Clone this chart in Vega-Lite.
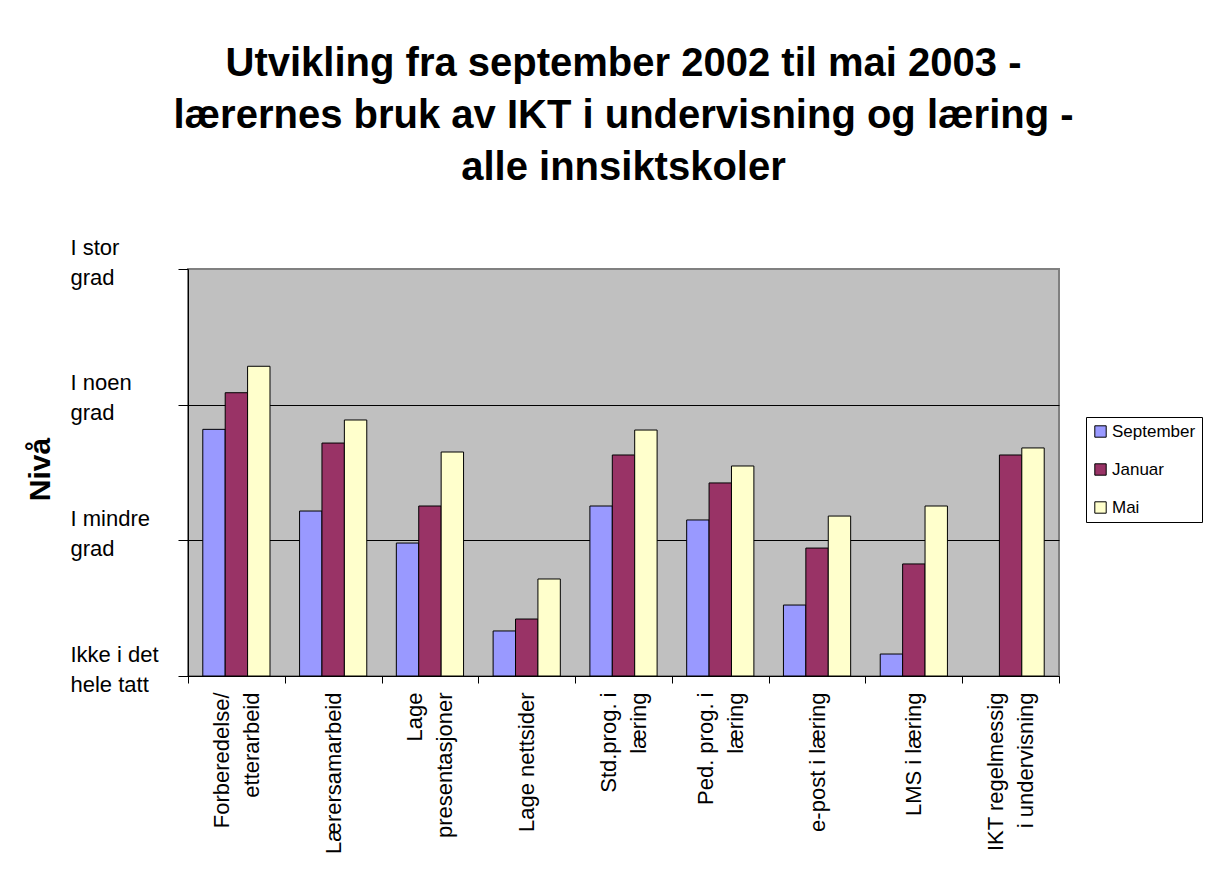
{
  "$schema": "https://vega.github.io/schema/vega-lite/v6.json",
  "autosize": {"type": "none"},
  "width": 871,
  "height": 407,
  "padding": {"left": 188, "top": 269, "right": 168, "bottom": 200},
  "background": "white",
  "title": {
    "text": ["Utvikling fra september 2002 til mai 2003 -", "lærernes bruk av IKT i undervisning og læring -", "alle innsiktskoler"],
    "fontSize": 40,
    "fontWeight": "bold",
    "font": "Liberation Sans, Arial",
    "color": "black",
    "lineHeight": 52,
    "anchor": "middle",
    "frame": "group",
    "offset": 48
  },
  "data": {
    "values": [
      {"aktivitet": "Forberedelse/\netterarbeid", "periode": "September", "niva": 2.818},
      {"aktivitet": "Forberedelse/\netterarbeid", "periode": "Januar", "niva": 3.088},
      {"aktivitet": "Forberedelse/\netterarbeid", "periode": "Mai", "niva": 3.283},
      {"aktivitet": "Lærersamarbeid", "periode": "September", "niva": 2.216},
      {"aktivitet": "Lærersamarbeid", "periode": "Januar", "niva": 2.717},
      {"aktivitet": "Lærersamarbeid", "periode": "Mai", "niva": 2.887},
      {"aktivitet": "Lage\npresentasjoner", "periode": "September", "niva": 1.98},
      {"aktivitet": "Lage\npresentasjoner", "periode": "Januar", "niva": 2.253},
      {"aktivitet": "Lage\npresentasjoner", "periode": "Mai", "niva": 2.651},
      {"aktivitet": "Lage nettsider", "periode": "September", "niva": 1.332},
      {"aktivitet": "Lage nettsider", "periode": "Januar", "niva": 1.42},
      {"aktivitet": "Lage nettsider", "periode": "Mai", "niva": 1.715},
      {"aktivitet": "Std.prog. i\nlæring", "periode": "September", "niva": 2.253},
      {"aktivitet": "Std.prog. i\nlæring", "periode": "Januar", "niva": 2.629},
      {"aktivitet": "Std.prog. i\nlæring", "periode": "Mai", "niva": 2.813},
      {"aktivitet": "Ped. prog. i\nlæring", "periode": "September", "niva": 2.15},
      {"aktivitet": "Ped. prog. i\nlæring", "periode": "Januar", "niva": 2.423},
      {"aktivitet": "Ped. prog. i\nlæring", "periode": "Mai", "niva": 2.548},
      {"aktivitet": "e-post i læring", "periode": "September", "niva": 1.523},
      {"aktivitet": "e-post i læring", "periode": "Januar", "niva": 1.943},
      {"aktivitet": "e-post i læring", "periode": "Mai", "niva": 2.179},
      {"aktivitet": "LMS i læring", "periode": "September", "niva": 1.162},
      {"aktivitet": "LMS i læring", "periode": "Januar", "niva": 1.826},
      {"aktivitet": "LMS i læring", "periode": "Mai", "niva": 2.253},
      {"aktivitet": "IKT regelmessig\ni undervisning", "periode": "Januar", "niva": 2.629},
      {"aktivitet": "IKT regelmessig\ni undervisning", "periode": "Mai", "niva": 2.681}
    ]
  },
  "mark": {"type": "bar", "stroke": "black", "strokeWidth": 1},
  "encoding": {
    "x": {
      "field": "aktivitet",
      "type": "nominal",
      "sort": null,
      "scale": {"paddingInner": 0, "paddingOuter": 0},
      "axis": {
        "title": null,
        "labelAngle": 270,
        "labelAlign": "right",
        "labelBaseline": "middle",
        "labelPadding": 9,
        "labelOffset": -15,
        "labelFontSize": 22,
        "labelLineHeight": 15,
        "labelColor": "black",
        "labelLimit": 0,
        "labelOverlap": false,
        "labelExpr": "indexof(datum.label, '\\n') >= 0 ? [split(datum.label, '\\n')[0], '\u2800', split(datum.label, '\\n')[1]] : ['', datum.label]",
        "tickBand": "extent",
        "tickSize": 7,
        "tickColor": "black",
        "domainColor": "black",
        "grid": false
      }
    },
    "xOffset": {
      "field": "periode",
      "type": "nominal",
      "sort": ["September", "Januar", "Mai"],
      "scale": {"domain": ["September", "Januar", "Mai"], "paddingInner": 0, "paddingOuter": 0.66}
    },
    "y": {
      "field": "niva",
      "type": "quantitative",
      "scale": {"domain": [1, 4], "zero": false, "nice": false},
      "axis": {
        "title": "Nivå",
        "titleFontSize": 30,
        "titleFontWeight": "bold",
        "titleColor": "black",
        "titleAngle": 270,
        "titleX": -148,
        "titleY": 200,
        "titleAlign": "center",
        "titleBaseline": "middle",
        "values": [1, 2, 3, 4],
        "labelExpr": "datum.value == 4 ? ['I stor', 'grad'] : datum.value == 3 ? ['I noen', 'grad'] : datum.value == 2 ? ['I mindre', 'grad'] : ['Ikke i det', 'hele tatt']",
        "labelAlign": "left",
        "labelBaseline": "middle",
        "labelPadding": 108,
        "labelOffset": -22,
        "labelFontSize": 22,
        "labelLineHeight": 30,
        "labelColor": "black",
        "labelOverlap": false,
        "labelFlush": false,
        "labelBound": false,
        "tickSize": 10,
        "tickColor": "black",
        "domainColor": "black",
        "grid": true,
        "gridColor": {"condition": {"test": "datum.value == 4", "value": "#808080"}, "value": "black"},
        "gridWidth": 1
      }
    },
    "y2": {"datum": 1},
    "color": {
      "field": "periode",
      "type": "nominal",
      "scale": {"domain": ["September", "Januar", "Mai"], "range": ["#9999FF", "#993366", "#FFFFCC"]},
      "legend": {
        "title": null,
        "orient": "none",
        "legendX": 898,
        "legendY": 148,
        "direction": "vertical",
        "fillColor": "white",
        "strokeColor": "black",
        "padding": 6,
        "symbolType": "square",
        "symbolSize": 130,
        "symbolStrokeColor": "black",
        "symbolStrokeWidth": 1,
        "symbolOpacity": 1,
        "labelFontSize": 17,
        "labelColor": "black",
        "labelOffset": 3,
        "rowPadding": 20
      }
    }
  },
  "config": {
    "font": "Liberation Sans, Arial",
    "view": {"fill": "#C0C0C0", "stroke": "#808080", "strokeWidth": 2},
    "axis": {"labelFont": "Liberation Sans, Arial", "titleFont": "Liberation Sans, Arial"},
    "legend": {"labelFont": "Liberation Sans, Arial"}
  }
}
